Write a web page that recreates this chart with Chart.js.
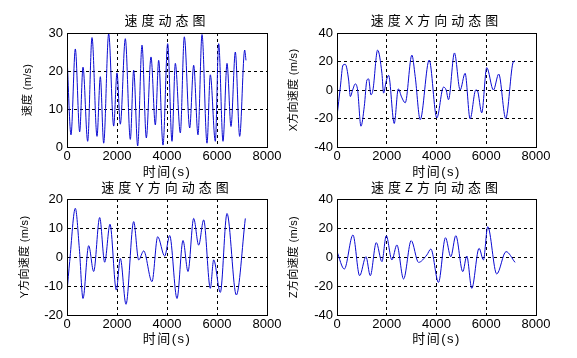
<!DOCTYPE html>
<html><head><meta charset="utf-8">
<script src="https://cdn.jsdelivr.net/npm/chart.js@4.4.1/dist/chart.umd.min.js"></script>
<style>
html,body{margin:0;padding:0;background:#fff;width:577px;height:358px;overflow:hidden;position:relative}
canvas{position:absolute}
</style></head><body>
<canvas id="c1" width="290" height="180" style="left:0;top:0"></canvas>
<canvas id="c2" width="290" height="180" style="left:287px;top:0"></canvas>
<canvas id="c3" width="290" height="171" style="left:0;top:176px"></canvas>
<canvas id="c4" width="290" height="171" style="left:287px;top:176px"></canvas>
<script>
// ---- data ----
const xTicks = [0, 2000, 4000, 6000, 8000];
const xLabel = '时间(s)';

const speedTitle = '速度动态图';
const speedYLabel = '速度 (m/s)';
const speedYTicks = [0, 10, 20, 30];
const speedTime = [0,160,333,507,640,827,1000,1200,1333,1467,1667,1867,2000,2133,2333,2533,2667,2827,3000,3173,3360,3533,3667,3840,4027,4200,4333,4533,4693,4907,5067,5240,5400,5600,5733,5933,6067,6240,6400,6560,6733,6907,7107,7160];
const speedVals = [24,3.2,25.8,4,21,1.5,28.8,2.8,18.5,1,29.8,5.5,19.5,6,28.5,2,20.2,0.3,26.8,2.4,23.7,5.8,22.8,0.5,27.2,1.5,22,3.7,29,5,21.5,3.2,29.6,1,19,1.5,27.2,1.5,22,5.4,25,2.8,25.5,22.8];

const vxTitle = '速度X方向动态图';
const vxYLabel = 'X方向速度 (m/s)';
const vxYTicks = [-40, -20, 0, 20, 40];
const vxTime = [0,134,241,334,468,535,629,736,829,963,1097,1204,1271,1365,1445,1632,1806,1873,1980,2074,2301,2464,2598,2743,3010,3144,3345,3706,4013,4281,4388,4482,4722,4950,5150,5351,5579,5646,5819,6020,6288,6502,6783,7090,7157];
const vxVals = [-18.5,2,17.5,18,7,-4.6,0,4.3,0,-25.4,-11.5,7,7.8,-3.4,0,28,11.7,-2.2,6.4,10.3,-23.5,0.8,-5,-9,24.5,9.4,-20.8,21,-19.6,2,0,-6.8,26,0,11.7,-20.3,0,-0.5,-16,15.7,0,11.2,-20,19.8,20.3];

const vyTitle = '速度Y方向动态图';
const vyYLabel = 'Y方向速度 (m/s)';
const vyYTicks = [-20, -10, 0, 10, 20];
const vyTime = [0,107,333,493,640,867,1067,1307,1507,1720,1973,2133,2360,2667,2867,3067,3400,3627,3907,4107,4400,4640,4840,5067,5267,5467,5733,5867,6133,6400,6773,7133];
const vyVals = [-12,-1.6,16.8,3,-14.3,3.9,-5,13.6,-1.8,11.3,-11.4,-0.5,-16.3,12.2,-1,2.1,-8.5,7,0.3,7.4,-14.3,5.7,-5,13.3,4.1,12.8,-10.8,-1,-12.2,15,-13.1,13.3];

const vzTitle = '速度Z方向动态图';
const vzYLabel = 'Z方向速度 (m/s)';
const vzYTicks = [-40, -20, 0, 20, 40];
const vzTime = [0,294,642,910,1164,1338,1579,1806,1980,2207,2408,2676,2983,3278,3612,3773,4080,4361,4575,4776,5057,5217,5418,5712,5886,6060,6421,6796,7157];
const vzVals = [3.7,-8.3,15.2,-12.9,0.2,-12.9,9.9,-3.2,14.7,-2,8.3,-15.2,11.3,-3.7,1.4,5.5,-17.5,13.3,0.2,14.7,-10.1,0.7,-21.6,6,-2,20.9,-11.7,3.7,-3.7];

// ---- styling helpers ----
const FONT = '"Liberation Sans", Arial, "Noto Sans CJK SC", sans-serif';
const LINE = '#0a0ad2';

// letter spacing for the (spaced) chart titles and x-axis titles
try {
  const TitleEl = Chart.Title && Chart.Title._element;
  if (TitleEl) {
    const d = TitleEl.prototype.draw;
    TitleEl.prototype.draw = function () {
      const c = this.ctx; const p = c.letterSpacing; c.letterSpacing = '4px';
      d.apply(this, arguments); c.letterSpacing = p;
    };
  }
  const dt = Chart.Scale.prototype.drawTitle;
  Chart.Scale.prototype.drawTitle = function () {
    const c = this.ctx; const p = c.letterSpacing;
    c.letterSpacing = this.isHorizontal() ? '1.5px' : '0.3px';
    dt.apply(this, arguments); c.letterSpacing = p;
  };
} catch (e) {}

const frame = {
  id: 'frame',
  afterDatasetsDraw(chart) {
    const {ctx, chartArea: a} = chart;
    ctx.save();
    ctx.setLineDash([]);
    ctx.strokeStyle = '#000';
    ctx.lineWidth = 1;
    ctx.strokeRect(Math.round(a.left) + 0.5, Math.round(a.top) + 0.5,
      Math.round(a.right) - Math.round(a.left), Math.round(a.bottom) - Math.round(a.top));
    ctx.restore();
  }
};

function makeChart(id, times, vals, yTicks, title, yLabel, g) {
  const pts = times.map((t, i) => ({x: t, y: vals[i]}));
  return new Chart(document.getElementById(id), {
    type: 'line',
    data: {datasets: [{data: pts, borderColor: LINE, borderWidth: 1, pointRadius: 0,
      cubicInterpolationMode: 'monotone', fill: false}]},
    options: {
      responsive: false, animation: false, devicePixelRatio: 1,
      layout: {padding: {left: 0, right: g.padRight, top: 0, bottom: 0}},
      plugins: {
        legend: {display: false}, tooltip: {enabled: false},
        title: {display: true, text: title, fullSize: false, color: '#000',
          font: {family: FONT, size: 13, weight: 'normal'},
          padding: {top: g.tTop, bottom: g.tBottom}}
      },
      scales: {
        x: {type: 'linear', min: xTicks[0], max: xTicks[xTicks.length - 1],
          afterFit(s) { s.height = g.xH; },
          afterBuildTicks(s) { s.ticks = xTicks.map(v => ({value: v})); },
          ticks: {color: '#000', padding: 2, font: {family: FONT, size: 13}, maxRotation: 0,
            callback: v => String(v)},
          grid: {color: '#000', lineWidth: 1, drawTicks: false},
          border: {display: true, color: '#000', width: 1, dash: [3, 3]},
          title: {display: true, text: xLabel, color: '#000', padding: {top: 0, bottom: 0},
            font: {family: FONT, size: 13}}
        },
        y: {type: 'linear', min: yTicks[0], max: yTicks[yTicks.length - 1],
          afterFit(s) { s.width = g.yW; },
          afterBuildTicks(s) { s.ticks = yTicks.map(v => ({value: v})); },
          ticks: {color: '#000', padding: 4, font: {family: FONT, size: 13},
            callback: v => String(v)},
          grid: {color: '#000', lineWidth: 1, drawTicks: false},
          border: {display: true, color: '#000', width: 1, dash: [3, 3]},
          title: {display: true, text: yLabel, color: '#000', padding: {top: g.yT, bottom: 0},
            font: {family: FONT, size: 11}}
        }
      }
    },
    plugins: [frame]
  });
}

makeChart('c1', speedTime, speedVals, speedYTicks, speedTitle, speedYLabel,
  {padRight: 23, yW: 67, yT: 21, tTop: 13.2, tBottom: 4.2, xH: 33});
makeChart('c2', vxTime, vxVals, vxYTicks, vxTitle, vxYLabel,
  {padRight: 41, yW: 50, yT: 0.5, tTop: 13.2, tBottom: 4.2, xH: 33});
makeChart('c3', vyTime, vyVals, vyYTicks, vyTitle, vyYLabel,
  {padRight: 23, yW: 67, yT: 18, tTop: 4.2, tBottom: 3.2, xH: 32});
makeChart('c4', vzTime, vzVals, vzYTicks, vzTitle, vzYLabel,
  {padRight: 41, yW: 50, yT: 0.5, tTop: 4.2, tBottom: 3.2, xH: 32});
</script>
</body></html>
